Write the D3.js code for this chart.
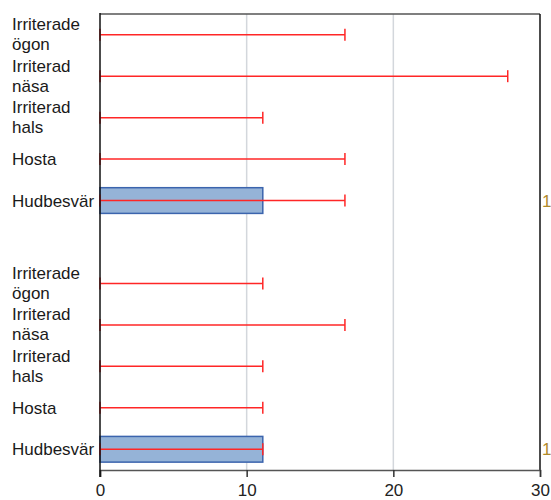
<!DOCTYPE html>
<html>
<head>
<meta charset="utf-8">
<script src="https://cdn.jsdelivr.net/npm/d3@7"></script>
<style>
  body { margin: 0; background: #fff; }
  text { font-family: "Liberation Sans", Arial, sans-serif; }
</style>
</head>
<body>
<script>
var w = 551;
var h = 500;

// categories, top to bottom (empty slot is the gap between the two groups)
var labels = [
  ["Irriterade", "ögon"], ["Irriterad", "näsa"], ["Irriterad", "hals"], ["Hosta"], ["Hudbesvär"],
  [],
  ["Irriterade", "ögon"], ["Irriterad", "näsa"], ["Irriterad", "hals"], ["Hosta"], ["Hudbesvär"]
];
// bar values
var values = [0, 0, 0, 0, 11.1, null, 0, 0, 0, 0, 11.1];
// error bar upper ends (lower ends at 0)
var errHigh = [16.7, 27.8, 11.1, 16.7, 16.7, null, 11.1, 16.7, 11.1, 11.1, 11.1];
// data labels on the right
var dataLabels = ["", "", "", "", "1", "", "", "", "", "", "1"];
var xTicks = [0, 10, 20, 30];

var margin = {top: 14, right: 11, bottom: 30, left: 100};

var svg = d3.select("body")
  .append("svg")
  .attr("width", w)
  .attr("height", h);

var x = d3.scaleLinear()
  .domain([0, 30])
  .range([margin.left, w - margin.right]);

var y = d3.scaleBand()
  .domain(d3.range(labels.length))
  .range([margin.top, h - margin.bottom])
  .paddingInner(0.38)
  .paddingOuter(0.19);

var rowMid = function(i) { return y(i) + y.bandwidth() / 2; };

// vertical gridlines
svg.selectAll("line.grid")
  .data(xTicks.filter(function(d) { return d > 0 && d < 30; }))
  .enter().append("line")
  .attr("class", "grid")
  .attr("x1", function(d) { return x(d); })
  .attr("x2", function(d) { return x(d); })
  .attr("y1", y.range()[0])
  .attr("y2", y.range()[1])
  .attr("stroke", "#d3d7dc")
  .attr("stroke-width", 1.5);

// bars
svg.selectAll("rect.bar")
  .data(values.map(function(v, i) { return {v: v, i: i}; }).filter(function(d) { return d.v; }))
  .enter().append("rect")
  .attr("class", "bar")
  .attr("x", x(0))
  .attr("y", function(d) { return y(d.i); })
  .attr("width", function(d) { return x(d.v) - x(0); })
  .attr("height", y.bandwidth())
  .attr("fill", "#95b3d7")
  .attr("stroke", "#3b64ad")
  .attr("stroke-width", 1.5);

// error bars
var errs = errHigh.map(function(v, i) { return {v: v, i: i}; }).filter(function(d) { return d.v != null; });
var eg = svg.selectAll("g.err")
  .data(errs)
  .enter().append("g")
  .attr("class", "err")
  .attr("stroke", "#ff2626")
  .attr("stroke-width", 1.5);

eg.append("line")
  .attr("x1", x(0))
  .attr("x2", function(d) { return x(d.v); })
  .attr("y1", function(d) { return rowMid(d.i); })
  .attr("y2", function(d) { return rowMid(d.i); });

eg.append("line")
  .attr("x1", function(d) { return x(d.v); })
  .attr("x2", function(d) { return x(d.v); })
  .attr("y1", function(d) { return rowMid(d.i) - 6; })
  .attr("y2", function(d) { return rowMid(d.i) + 6; });

eg.append("line")
  .attr("x1", x(0))
  .attr("x2", x(0))
  .attr("y1", function(d) { return rowMid(d.i) - 6; })
  .attr("y2", function(d) { return rowMid(d.i) + 6; });

// frame: top and right
svg.append("line")
  .attr("x1", x(0)).attr("x2", x(30))
  .attr("y1", y.range()[0]).attr("y2", y.range()[0])
  .attr("stroke", "#555").attr("stroke-width", 1.5);
svg.append("line")
  .attr("x1", x(30)).attr("x2", x(30))
  .attr("y1", y.range()[0]).attr("y2", y.range()[1])
  .attr("stroke", "#111").attr("stroke-width", 1.5);

// bottom axis
var xAxis = svg.append("g")
  .attr("transform", "translate(0," + y.range()[1] + ")")
  .call(d3.axisBottom(x).tickValues(xTicks).tickSize(7).tickPadding(7));
xAxis.select(".domain").attr("stroke", "#555").attr("stroke-width", 1.5);
xAxis.selectAll(".tick line").attr("stroke", "#333").attr("stroke-width", 1.5);
xAxis.selectAll(".tick text")
  .attr("font-family", "Liberation Sans, Arial, sans-serif")
  .attr("font-size", 17)
  .attr("fill", "#222");

// left axis line
svg.append("line")
  .attr("x1", x(0)).attr("x2", x(0))
  .attr("y1", y.range()[0] - 1).attr("y2", y.range()[1] + 7)
  .attr("stroke", "#111").attr("stroke-width", 1.5);

// category labels
var lab = svg.selectAll("text.cat")
  .data(labels.map(function(l, i) { return {l: l, i: i}; }).filter(function(d) { return d.l.length; }))
  .enter().append("text")
  .attr("class", "cat")
  .attr("x", 12)
  .attr("font-size", 17)
  .attr("fill", "#1a1a1a");

lab.each(function(d) {
  var t = d3.select(this);
  var mid = rowMid(d.i);
  if (d.l.length === 1) {
    t.append("tspan").attr("x", 12).attr("y", mid + 6).text(d.l[0]);
  } else {
    t.append("tspan").attr("x", 12).attr("y", mid - 4.5).text(d.l[0]);
    t.append("tspan").attr("x", 12).attr("y", mid + 15.5).text(d.l[1]);
  }
});

// data labels at the right edge
svg.selectAll("text.dl")
  .data(dataLabels.map(function(t, i) { return {t: t, i: i}; }).filter(function(d) { return d.t; }))
  .enter().append("text")
  .attr("class", "dl")
  .attr("x", x(30) + 2)
  .attr("y", function(d) { return rowMid(d.i) + 6; })
  .attr("font-size", 17)
  .attr("fill", "#b08a2a")
  .text(function(d) { return d.t; });
</script>
</body>
</html>
